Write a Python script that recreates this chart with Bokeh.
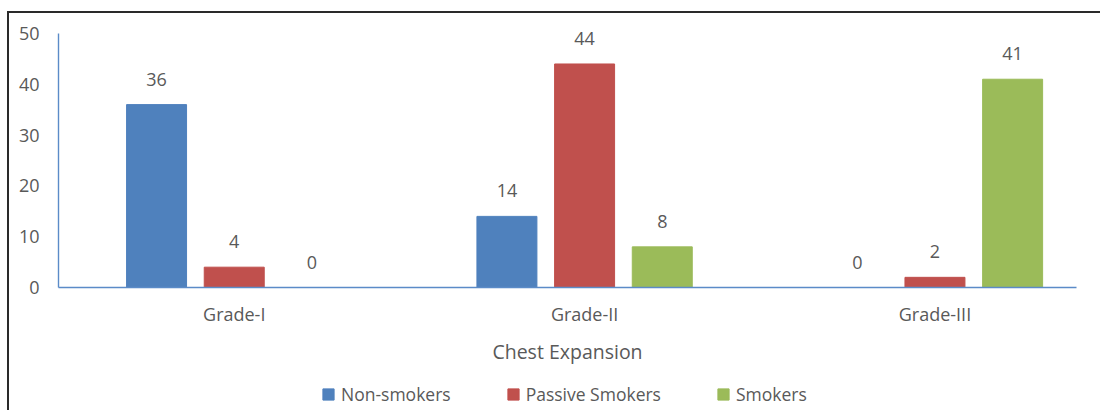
from bokeh.plotting import figure
from bokeh.models import ColumnDataSource, Range1d, FixedTicker, LabelSet, Legend, LegendItem
from bokeh.layouts import column
from bokeh.core.properties import value
from bokeh.embed import file_html
from bokeh.resources import INLINE

categories = ["Grade-I", "Grade-II", "Grade-III"]
series_names = ["Non-smokers", "Passive Smokers", "Smokers"]
non_smokers = [36, 14, 0]
passive_smokers = [4, 44, 2]
smokers = [0, 8, 41]
y_ticks = [0, 10, 20, 30, 40, 50]
x_title = "Chest Expansion"

series_values = [non_smokers, passive_smokers, smokers]
colors = ["#4f81bd", "#c0504d", "#9bbb59"]
offsets = [-0.2217, 0.0, 0.2217]
bar_w = 0.1712
FONT = "Open Sans"
TXT = "#595959"
AXIS = "#5b8bc8"

p = figure(frame_width=1018, frame_height=274, output_backend="svg", toolbar_location=None,
           x_range=Range1d(-0.5016, 2.404), y_range=Range1d(0, 50 * 274 / 254),
           min_border_left=49, min_border_right=24, min_border_top=0, min_border_bottom=84)
p.outline_line_color = None
p.grid.visible = False

# legend strip (separate figure so the legend is not clipped by the chart frame)
p2 = figure(width=1091, height=39, output_backend="svg", toolbar_location=None,
            x_range=p.x_range, y_range=Range1d(-2, -1),
            x_axis_location=None, y_axis_location=None,
            min_border_left=0, min_border_right=0, min_border_top=0, min_border_bottom=0)
p2.outline_line_color = None
p2.grid.visible = False

lx, ly, lt = [], [], []
leg_renderers = []
for vals, col, off in zip(series_values, colors, offsets):
    xs = [i + off for i in range(len(categories))]
    src = ColumnDataSource(dict(x=xs, top=vals))
    p.vbar(x="x", top="top", width=bar_w, source=src, fill_color=col, line_color=col)
    r2 = p2.vbar(x="x", top="top", width=bar_w, source=src, fill_color=col, line_color=col)
    r2.visible = False
    leg_renderers.append(r2)
    lx += xs
    ly += vals
    lt += [str(v) for v in vals]

lab_src = ColumnDataSource(dict(x=lx, y=ly, t=lt))
labels = LabelSet(x="x", y="y", text="t", source=lab_src, y_offset=19,
                  text_align="center", text_baseline="alphabetic",
                  text_font=value(FONT), text_font_size=value("18px"), text_color=value(TXT))
p.add_layout(labels)

# axes
p.xaxis.ticker = FixedTicker(ticks=list(range(len(categories))))
p.xaxis.major_label_overrides = {i: c for i, c in enumerate(categories)}
p.yaxis.ticker = FixedTicker(ticks=y_ticks)
p.yaxis.bounds = (y_ticks[0], y_ticks[-1])
for ax in (p.xaxis[0], p.yaxis[0]):
    ax.axis_line_color = AXIS
    ax.axis_line_width = 1.4
    ax.major_tick_line_color = None
    ax.minor_tick_line_color = None
    ax.major_label_text_font = FONT
    ax.major_label_text_font_size = "18px"
    ax.major_label_text_color = TXT
p.yaxis.major_label_standoff = 13
p.xaxis.major_label_standoff = 8
p.xaxis.axis_label = x_title
p.xaxis.axis_label_text_font = FONT
p.xaxis.axis_label_text_font_size = "19.5px"
p.xaxis.axis_label_text_font_style = "normal"
p.xaxis.axis_label_text_color = TXT
p.xaxis.axis_label_standoff = 9

legend = Legend(items=[LegendItem(label=n, renderers=[r]) for n, r in zip(series_names, leg_renderers)],
                orientation="horizontal", location=(263, 4),
                label_text_font=FONT, label_text_font_size="17.5px", label_text_color=TXT,
                glyph_width=14, glyph_height=14, label_standoff=6, spacing=55,
                padding=0, margin=0, border_line_color=None, background_fill_alpha=0,
                inactive_fill_alpha=0)
p2.add_layout(legend)

layout = column(p, p2, spacing=0)
layout.styles = {"margin-left": "7px", "margin-top": "11px",
                 "border-left": "2px solid #2a2a2a", "border-top": "2px solid #2a2a2a"}

open("out.html", "w").write(file_html(layout, INLINE))
